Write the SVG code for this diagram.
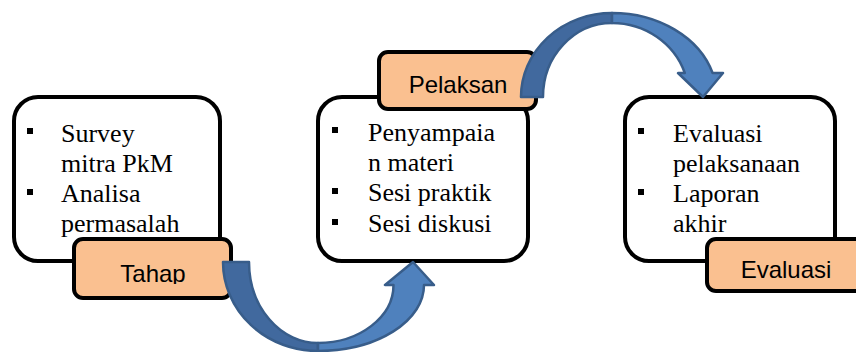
<svg xmlns="http://www.w3.org/2000/svg" width="856" height="352" viewBox="0 0 856 352">
<style>
.box{fill:#fff;stroke:#000;stroke-width:4}
.lbl{fill:#fac090;stroke:#000;stroke-width:4}
.t{font-family:'Liberation Serif','Times New Roman','DejaVu Serif',serif;font-size:26px;fill:#000}
.lt{font-family:'Liberation Sans',Arial,sans-serif;font-size:24px;fill:#000;text-anchor:middle}
.bul{fill:#000}
.dark{fill:#41699e;stroke:#385d8a;stroke-width:2.5;stroke-linejoin:round}
.light{fill:#4f81bd;stroke:#385d8a;stroke-width:2.5;stroke-linejoin:round}
</style>
<defs>
<clipPath id="clipTahap"><rect x="74" y="239" width="157" height="45"/></clipPath>
</defs>
<g id="node-tahap">
<rect class="box" x="14" y="97" width="206" height="164" rx="24"/>
<rect class="bul" x="27" y="128" width="6" height="6"/>
<text class="t" x="61" y="141.5" font-family="Liberation Serif, serif">Survey</text>
<text class="t" x="61" y="171.5" font-family="Liberation Serif, serif">mitra PkM</text>
<rect class="bul" x="27" y="189" width="6" height="6"/>
<text class="t" x="61" y="201.5" font-family="Liberation Serif, serif">Analisa</text>
<text class="t" x="61" y="231.5" font-family="Liberation Serif, serif">permasalah</text>
<rect class="lbl" x="74" y="239" width="157" height="59" rx="9"/>
<text class="lt" x="153" y="282" clip-path="url(#clipTahap)">Tahap</text>
</g>
<g id="node-pelaksanaan">
<rect class="box" x="318" y="97" width="210" height="164" rx="24"/>
<rect class="bul" x="332" y="127" width="6" height="6"/>
<text class="t" x="368" y="140.5" font-family="Liberation Serif, serif">Penyampaia</text>
<text class="t" x="368" y="170.5" font-family="Liberation Serif, serif">n materi</text>
<rect class="bul" x="332" y="188" width="6" height="6"/>
<text class="t" x="368" y="201" font-family="Liberation Serif, serif">Sesi praktik</text>
<rect class="bul" x="332" y="219" width="6" height="6"/>
<text class="t" x="368" y="232" font-family="Liberation Serif, serif">Sesi diskusi</text>
<rect class="lbl" x="379" y="52" width="157" height="57" rx="9"/>
<text class="lt" x="458" y="93">Pelaksan</text>
</g>
<g id="node-evaluasi">
<rect class="box" x="625" y="97" width="210" height="164" rx="24"/>
<rect class="bul" x="638" y="128" width="6" height="6"/>
<text class="t" x="673" y="141.5" font-family="Liberation Serif, serif">Evaluasi</text>
<text class="t" x="673" y="171.5" font-family="Liberation Serif, serif">pelaksanaan</text>
<rect class="bul" x="638" y="189" width="6" height="6"/>
<text class="t" x="673" y="201.5" font-family="Liberation Serif, serif">Laporan</text>
<text class="t" x="673" y="231.5" font-family="Liberation Serif, serif">akhir</text>
<rect class="lbl" x="707" y="239" width="170" height="52" rx="9"/>
<text class="lt" x="786" y="278">Evaluasi</text>
</g>
<g id="connectors">
<g id="arrow-1">
<path class="dark" d="M223,262 A95 89 0 0 0 318,351 L318,343 A69 81 0 0 1 249,262 Z"/>
<path class="light" d="M318,351 A106 66 0 0 0 424,285 L434,285 L413,262 L385,285 L393.5,285 A76 58 0 0 1 318,343 Z"/>
</g>
<g id="arrow-2">
<path class="dark" d="M521,97 A91 84 0 0 1 612,13 L612,23 A69 74 0 0 0 543,97 Z"/>
<path class="light" d="M612,13 A105 84 0 0 1 712.6,73 L723,73 L703,97 L678,73 L684.8,73 A77 74 0 0 0 612,23 Z"/>
</g>
</g>
</svg>
